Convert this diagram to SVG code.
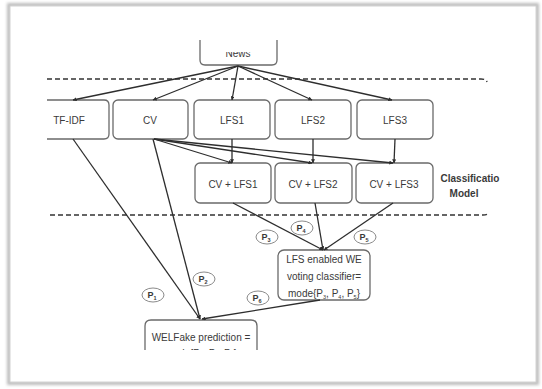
<svg xmlns="http://www.w3.org/2000/svg" width="542" height="389" viewBox="0 0 542 389">
<style>
.box{fill:#fff;stroke:#6a6a6a;stroke-width:1.3}
.t{font-family:"Liberation Sans",Arial,sans-serif;font-size:10px;fill:#3a3a3a;text-anchor:middle}
.cl{font-family:"Liberation Sans",Arial,sans-serif;font-size:10px;fill:#3a3a3a;font-weight:bold;text-anchor:middle}
.edge{stroke:#2e2e2e;stroke-width:1.3;fill:none}
.dash{stroke:#333;stroke-width:1.4;fill:none;stroke-dasharray:5 3}
.pl{fill:#fff;stroke:#8a8a8a;stroke-width:1}
.pt{font-family:"Liberation Sans",Arial,sans-serif;font-size:9px;fill:#3a3a3a;text-anchor:middle;font-weight:bold}
.sub{font-size:5.5px}
</style>
<defs>
<marker id="ah" viewBox="0 0 6 6" refX="5.5" refY="3" markerWidth="4" markerHeight="4" orient="auto" markerUnits="userSpaceOnUse">
<path d="M0,0 L6,3 L0,6 z" fill="#2e2e2e"/>
</marker>
<clipPath id="newsclip"><rect x="190" y="52" width="100" height="30"/></clipPath>
<clipPath id="welclip"><rect x="130" y="300" width="140" height="50"/></clipPath>
<filter id="sh" x="-5%" y="-5%" width="110%" height="110%"><feGaussianBlur stdDeviation="1.5"/></filter>
</defs>
<rect width="542" height="389" fill="#fff"/>
<rect x="9" y="5" width="528" height="378" fill="none" stroke="#bdbdbd" stroke-width="4" filter="url(#sh)"/>
<rect x="10" y="6" width="526" height="376" fill="#fff" stroke="#d2d2d2" stroke-width="1"/>

<g id="boundary">
<path class="dash" d="M47,79 H481 Q486,79 487,82"/>
<path class="dash" d="M50,215 H483 Q488,215 489,212"/>
<text class="cl" x="470" y="182">Classificatio</text>
<text class="cl" x="464" y="197">Model</text>
</g>

<g id="news">
<path class="box" d="M200,40 V60 Q200,65 205,65 H272 Q277,65 277,60 V40" fill="none"/>
<text class="t" x="238" y="57" clip-path="url(#newsclip)">News</text>
</g>
<g id="tfidf">
<path class="box" d="M47,100 H104 Q109,100 109,105 V134 Q109,139 104,139 H47"/>
<text class="t" x="69" y="124">TF-IDF</text>
</g>
<g id="cv">
<rect class="box" x="113" y="100" width="75" height="39" rx="5"/>
<text class="t" x="150" y="124">CV</text>
</g>
<g id="lfs1">
<rect class="box" x="194" y="100" width="76" height="39" rx="5"/>
<text class="t" x="232" y="124">LFS1</text>
</g>
<g id="lfs2">
<rect class="box" x="275" y="100" width="76" height="39" rx="5"/>
<text class="t" x="313" y="124">LFS2</text>
</g>
<g id="lfs3">
<rect class="box" x="357" y="100" width="76" height="39" rx="5"/>
<text class="t" x="395" y="124">LFS3</text>
</g>
<g id="cvlfs1">
<rect class="box" x="195" y="163" width="76" height="40" rx="5"/>
<text class="t" x="233" y="188">CV + LFS1</text>
</g>
<g id="cvlfs2">
<rect class="box" x="275" y="163" width="77" height="40" rx="5"/>
<text class="t" x="313" y="188">CV + LFS2</text>
</g>
<g id="cvlfs3">
<rect class="box" x="356" y="163" width="77" height="40" rx="5"/>
<text class="t" x="394" y="188">CV + LFS3</text>
</g>
<g id="voting">
<rect class="box" x="278" y="250" width="92" height="50" rx="6"/>
<text class="t" x="324" y="263">LFS enabled WE</text>
<text class="t" x="324" y="280">voting classifier=</text>
<text class="t" x="324" y="297">mode{P<tspan class="sub" dy="2">3</tspan><tspan dy="-2">, P</tspan><tspan class="sub" dy="2">4</tspan><tspan dy="-2">, P</tspan><tspan class="sub" dy="2">5</tspan><tspan dy="-2">}</tspan></text>
</g>
<g id="welfake">
<path class="box" d="M145,350 V326 Q145,320 151,320 H251 Q257,320 257,326 V350"/>
<text class="t" x="201" y="341">WELFake prediction =</text>
<text class="t" x="201" y="357" clip-path="url(#welclip)">mode{P<tspan class="sub" dy="2">1</tspan><tspan dy="-2">, P</tspan><tspan class="sub" dy="2">2</tspan><tspan dy="-2">, P</tspan><tspan class="sub" dy="2">6</tspan><tspan dy="-2">}</tspan></text>
</g>

<g id="connectors">
<line class="edge" x1="238" y1="66" x2="73" y2="100" marker-end="url(#ah)"/>
<line class="edge" x1="238" y1="66" x2="153" y2="100" marker-end="url(#ah)"/>
<line class="edge" x1="238" y1="66" x2="232" y2="100" marker-end="url(#ah)"/>
<line class="edge" x1="238" y1="66" x2="312" y2="100" marker-end="url(#ah)"/>
<line class="edge" x1="238" y1="66" x2="392" y2="100" marker-end="url(#ah)"/>
<line class="edge" x1="232" y1="139" x2="232" y2="163" marker-end="url(#ah)"/>
<line class="edge" x1="313" y1="139" x2="313" y2="163" marker-end="url(#ah)"/>
<line class="edge" x1="395" y1="139" x2="394" y2="163" marker-end="url(#ah)"/>
<line class="edge" x1="154" y1="139" x2="232" y2="163" marker-end="url(#ah)"/>
<line class="edge" x1="154" y1="139" x2="312" y2="163" marker-end="url(#ah)"/>
<line class="edge" x1="154" y1="139" x2="393" y2="163" marker-end="url(#ah)"/>
<line class="edge" x1="73" y1="139" x2="200" y2="319" marker-end="url(#ah)"/>
<line class="edge" x1="153" y1="139" x2="200" y2="319" marker-end="url(#ah)"/>
<line class="edge" x1="233" y1="203" x2="323" y2="250" marker-end="url(#ah)"/>
<line class="edge" x1="315" y1="203" x2="323" y2="250" marker-end="url(#ah)"/>
<line class="edge" x1="393" y1="203" x2="324" y2="250" marker-end="url(#ah)"/>
<line class="edge" x1="320" y1="300" x2="202" y2="319" marker-end="url(#ah)"/>
</g>

<g id="labels">
<g id="p3"><ellipse class="pl" cx="267" cy="237" rx="11" ry="7"/><text class="pt" x="266" y="240">P<tspan class="sub" dy="1.5">3</tspan></text></g>
<g id="p4"><ellipse class="pl" cx="302" cy="228" rx="11" ry="7"/><text class="pt" x="301" y="231">P<tspan class="sub" dy="1.5">4</tspan></text></g>
<g id="p5"><ellipse class="pl" cx="365" cy="237" rx="11" ry="7"/><text class="pt" x="364" y="240">P<tspan class="sub" dy="1.5">5</tspan></text></g>
<g id="p1"><ellipse class="pl" cx="153" cy="295" rx="11" ry="7"/><text class="pt" x="152" y="298">P<tspan class="sub" dy="1.5">1</tspan></text></g>
<g id="p2"><ellipse class="pl" cx="204" cy="279" rx="11" ry="7"/><text class="pt" x="203" y="282">P<tspan class="sub" dy="1.5">2</tspan></text></g>
<g id="p6"><ellipse class="pl" cx="258" cy="298" rx="11" ry="7"/><text class="pt" x="257" y="301">P<tspan class="sub" dy="1.5">6</tspan></text></g>
</g>
</svg>
